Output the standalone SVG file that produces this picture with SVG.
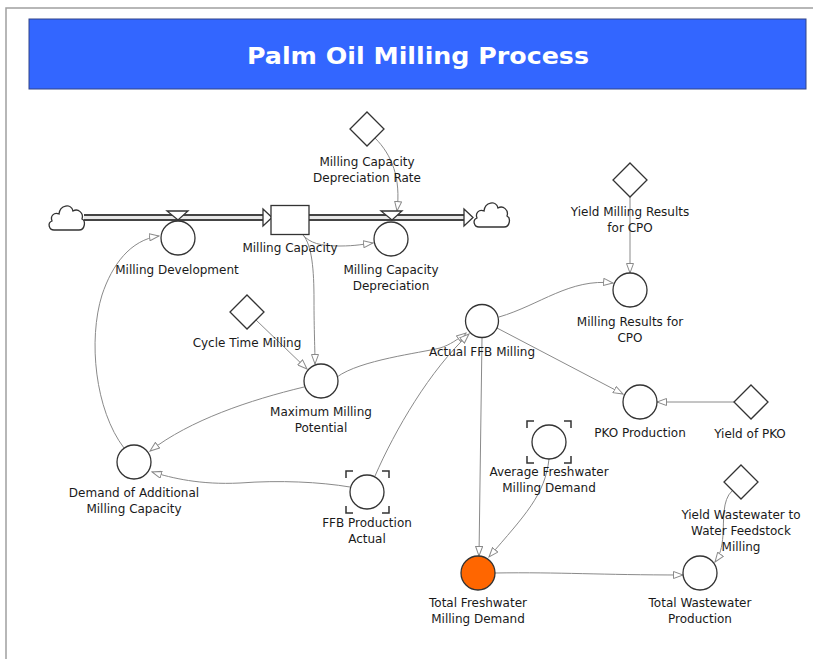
<svg xmlns="http://www.w3.org/2000/svg" width="813" height="659" viewBox="0 0 813 659">
<defs>
<style>
.lbl{font-family:"DejaVu Sans","Verdana",sans-serif;font-size:12px;fill:#1a1a1a;text-anchor:middle}
.aux{fill:#fff;stroke:#333;stroke-width:1.3}
.con{fill:#fff;stroke:#333;stroke-width:1.3}
.lnk{fill:none;stroke:#8a8a8a;stroke-width:1;marker-end:url(#ah)}
.pipeo{stroke:#444;stroke-width:7;fill:none}
.pipei{stroke:#e8e8e8;stroke-width:3;fill:none}
.brk{fill:none;stroke:#333;stroke-width:1.5}
.cloud{fill:#fff;stroke:#333;stroke-width:1.3}
.fa{fill:#fff;stroke:#333;stroke-width:1.3}
</style>
<marker id="ah" markerWidth="11" markerHeight="8" refX="10" refY="4" orient="auto" markerUnits="userSpaceOnUse">
<path d="M0.5,0.5 L10,4 L0.5,7.5 Z" fill="#fff" stroke="#8a8a8a" stroke-width="1"/>
</marker>
<path id="cloudShape" d="M6,28 C1,28 -1,21 4,19 C2,14 6,10 11,12 C12,3 23,1 25,9 C30,6 36,11 34,17 C38,19 37,28 31,28 Z"/>
</defs>

<rect x="0" y="0" width="813" height="659" fill="#fff"/>
<path d="M6,659 L6,8 L813,8" fill="none" stroke="#a0a0a0" stroke-width="1.5"/>

<g id="title">
<rect x="29" y="19" width="777" height="70" fill="#3366ff" stroke="#334488" stroke-width="1"/>
<text x="418" y="64" font-family="DejaVu Sans, Verdana, sans-serif" font-size="23" font-weight="bold" fill="#fff" text-anchor="middle" textLength="342" lengthAdjust="spacingAndGlyphs">Palm Oil Milling Process</text>
</g>

<g id="flows">
<path class="pipeo" d="M84,217.5 L264,217.5"/>
<path class="pipei" d="M84,217.5 L264,217.5"/>
<path class="pipeo" d="M309,217.5 L465,217.5"/>
<path class="pipei" d="M309,217.5 L465,217.5"/>
<path class="fa" d="M263,209 L272,217.5 L263,226 Z"/>
<path class="fa" d="M464,209 L473,217.5 L464,226 Z"/>
</g>

<g id="cloud-source"><use href="#cloudShape" class="cloud" transform="translate(48,202)"/></g>
<g id="cloud-sink"><use href="#cloudShape" class="cloud" transform="translate(473,199)"/></g>

<g id="connectors">
<path class="lnk" d="M303,235 C310,243 320,246 340,246 C355,246 365,244 373,243"/>
<path class="lnk" d="M303,235 C312,245 314,270 314,300 C314,330 315,350 315,364"/>
<path class="lnk" d="M375,138 C392,155 401,178 397,211"/>
<path class="lnk" d="M124,448 C95,410 88,340 102,295 C112,265 130,240 159,236"/>
<path class="lnk" d="M256,320 L307,369"/>
<path class="lnk" d="M337,377 C360,360 420,353 440,348 C450,345 458,339 466,333"/>
<path class="lnk" d="M304,387 C250,400 190,420 150,451"/>
<path class="lnk" d="M350,487 C320,482 280,480 240,483 C200,485 172,478 152,472"/>
<path class="lnk" d="M375,476 C395,430 430,370 469,334"/>
<path class="lnk" d="M499,317 C540,305 570,278 613,283"/>
<path class="lnk" d="M630,197 L630,273"/>
<path class="lnk" d="M497,328 L623,394"/>
<path class="lnk" d="M734,402 L657,402"/>
<path class="lnk" d="M482,338 L479,556"/>
<path class="lnk" d="M549,459 C545,495 525,515 489,557"/>
<path class="lnk" d="M495,573 C560,572 600,575 683,575"/>
<path class="lnk" d="M732,491 C722,500 724,520 723,535 C722,548 720,555 715,562"/>
</g>

<g id="milling-capacity">
<rect x="271" y="205.5" width="38" height="29" class="con"/>
<text class="lbl" x="290" y="252">Milling Capacity</text>
</g>

<g id="milling-development">
<circle cx="178" cy="238" r="17" class="aux"/>
<path class="fa" d="M167,211 L188,211 L178,220 Z"/>
<text class="lbl" x="177" y="274">Milling Development</text>
</g>

<g id="milling-capacity-depreciation">
<circle cx="391" cy="239" r="17" class="aux"/>
<path class="fa" d="M381,211 L402,211 L392,220 Z"/>
<text class="lbl" x="391" y="274">Milling Capacity</text>
<text class="lbl" x="391" y="290">Depreciation</text>
</g>

<g id="milling-capacity-depreciation-rate">
<path class="aux" d="M367,112 L384,129 L367,146 L350,129 Z"/>
<text class="lbl" x="367" y="166">Milling Capacity</text>
<text class="lbl" x="367" y="182">Depreciation Rate</text>
</g>

<g id="yield-milling-results-cpo">
<path class="aux" d="M630,163 L647,180 L630,197 L613,180 Z"/>
<text class="lbl" x="630" y="216">Yield Milling Results</text>
<text class="lbl" x="630" y="232">for CPO</text>
</g>

<g id="milling-results-cpo">
<circle cx="630" cy="290" r="17" class="aux"/>
<text class="lbl" x="630" y="326">Milling Results for</text>
<text class="lbl" x="630" y="342">CPO</text>
</g>

<g id="actual-ffb-milling">
<circle cx="482" cy="321" r="16.5" class="aux"/>
<text class="lbl" x="482" y="356">Actual FFB Milling</text>
</g>

<g id="cycle-time-milling">
<path class="aux" d="M247,295 L264,312 L247,329 L230,312 Z"/>
<text class="lbl" x="247" y="347">Cycle Time Milling</text>
</g>

<g id="maximum-milling-potential">
<circle cx="321" cy="381" r="17" class="aux"/>
<text class="lbl" x="321" y="416">Maximum Milling</text>
<text class="lbl" x="321" y="432">Potential</text>
</g>

<g id="demand-additional-milling-capacity">
<circle cx="134" cy="462" r="17" class="aux"/>
<text class="lbl" x="134" y="497">Demand of Additional</text>
<text class="lbl" x="134" y="513">Milling Capacity</text>
</g>

<g id="ffb-production-actual">
<circle cx="367" cy="492" r="17" class="aux"/>
<path class="brk" d="M346,478 L346,471 L353,471 M382,471 L389,471 L389,478 M389,506 L389,513 L382,513 M353,513 L346,513 L346,506"/>
<text class="lbl" x="367" y="527">FFB Production</text>
<text class="lbl" x="367" y="543">Actual</text>
</g>

<g id="pko-production">
<circle cx="640" cy="402" r="17" class="aux"/>
<text class="lbl" x="640" y="437">PKO Production</text>
</g>

<g id="yield-of-pko">
<path class="aux" d="M751,385 L768,402 L751,419 L734,402 Z"/>
<text class="lbl" x="750" y="438">Yield of PKO</text>
</g>

<g id="average-freshwater-milling-demand">
<circle cx="549" cy="442" r="17" class="aux"/>
<path class="brk" d="M527,428 L527,421 L534,421 M564,421 L571,421 L571,428 M571,456 L571,463 L564,463 M534,463 L527,463 L527,456"/>
<text class="lbl" x="549" y="476">Average Freshwater</text>
<text class="lbl" x="549" y="492">Milling Demand</text>
</g>

<g id="yield-wastewater">
<path class="aux" d="M741,465 L758,482 L741,499 L724,482 Z"/>
<text class="lbl" x="741" y="519">Yield Wastewater to</text>
<text class="lbl" x="741" y="535">Water Feedstock</text>
<text class="lbl" x="741" y="551">Milling</text>
</g>

<g id="total-freshwater-milling-demand">
<circle cx="478" cy="573" r="17" fill="#ff6600" stroke="#333" stroke-width="1.3"/>
<text class="lbl" x="478" y="607">Total Freshwater</text>
<text class="lbl" x="478" y="623">Milling Demand</text>
</g>

<g id="total-wastewater-production">
<circle cx="700" cy="573" r="17" class="aux"/>
<text class="lbl" x="700" y="607">Total Wastewater</text>
<text class="lbl" x="700" y="623">Production</text>
</g>
</svg>
